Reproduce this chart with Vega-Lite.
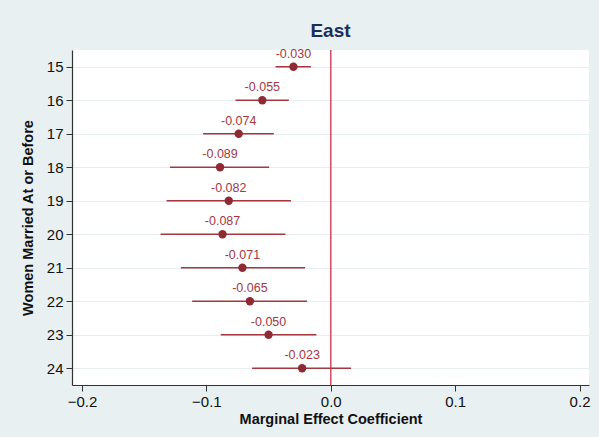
{
  "$schema": "https://vega.github.io/schema/vega-lite/v6.json",
  "width": 517,
  "height": 335,
  "autosize": {"type": "none"},
  "padding": {"left": 72, "top": 50, "right": 10, "bottom": 52},
  "background": "#E8F0F2",
  "config": {
    "view": {"stroke": null, "fill": "white"},
    "font": "Liberation Sans",
    "axis": {"labelFont": "Liberation Sans", "titleFont": "Liberation Sans", "domainColor": "#333333", "tickColor": "#333333", "labelColor": "#111111", "titleColor": "#111111"}
  },
  "title": {"text": "East", "fontSize": 19, "fontWeight": "bold", "color": "#1E2C5A", "offset": 7, "anchor": "middle", "font": "Liberation Sans"},
  "data": {"values": [
    {"age": 15, "coef": -0.030, "lo": -0.0444, "hi": -0.0160, "label": "-0.030"},
    {"age": 16, "coef": -0.055, "lo": -0.0766, "hi": -0.0337, "label": "-0.055"},
    {"age": 17, "coef": -0.074, "lo": -0.1026, "hi": -0.0458, "label": "-0.074"},
    {"age": 18, "coef": -0.089, "lo": -0.1293, "hi": -0.0495, "label": "-0.089"},
    {"age": 19, "coef": -0.082, "lo": -0.1320, "hi": -0.0320, "label": "-0.082"},
    {"age": 20, "coef": -0.087, "lo": -0.1368, "hi": -0.0364, "label": "-0.087"},
    {"age": 21, "coef": -0.071, "lo": -0.1205, "hi": -0.0206, "label": "-0.071"},
    {"age": 22, "coef": -0.065, "lo": -0.1114, "hi": -0.0190, "label": "-0.065"},
    {"age": 23, "coef": -0.050, "lo": -0.0884, "hi": -0.0115, "label": "-0.050"},
    {"age": 24, "coef": -0.023, "lo": -0.0632, "hi": 0.0163, "label": "-0.023"}
  ]},
  "encoding": {
    "y": {
      "field": "age", "type": "quantitative",
      "scale": {"domain": [14.5, 24.5], "reverse": true, "nice": false, "zero": false},
      "axis": {"values": [15,16,17,18,19,20,21,22,23,24], "title": "Women Married At or Before", "titleFontSize": 14.5, "titleFontWeight": "bold", "labelFontSize": 15, "tickSize": 6, "labelPadding": 3, "titlePadding": 11, "grid": true, "gridColor": "#E6EEF0", "gridWidth": 1.2, "domainWidth": 1.2}
    }
  },
  "layer": [
    {
      "mark": {"type": "rule", "color": "#D2506B", "strokeWidth": 1.6},
      "data": {"values": [{"zero": 0}]},
      "encoding": {"x": {"field": "zero", "type": "quantitative"}, "y": null}
    },
    {
      "mark": {"type": "rule", "color": "#A3383F", "strokeWidth": 1.4},
      "encoding": {
        "x": {"field": "lo", "type": "quantitative", "scale": {"domain": [-0.208, 0.2076], "nice": false, "zero": false},
          "axis": {"values": [-0.2, -0.1, 0, 0.1, 0.2], "format": ".1f", "title": "Marginal Effect Coefficient", "titleFontSize": 14.5, "titleFontWeight": "bold", "labelFontSize": 15, "tickSize": 6, "labelPadding": 3, "titlePadding": 3, "grid": false, "domainWidth": 1.2}},
        "x2": {"field": "hi"}
      }
    },
    {
      "mark": {"type": "point", "filled": true, "color": "#8E2A33", "size": 70, "opacity": 1},
      "encoding": {"x": {"field": "coef", "type": "quantitative"}}
    },
    {
      "mark": {"type": "text", "color": "#A3383F", "fontSize": 12.5, "dy": -6, "baseline": "bottom"},
      "encoding": {"x": {"field": "coef", "type": "quantitative"}, "text": {"field": "label"}}
    }
  ]
}
